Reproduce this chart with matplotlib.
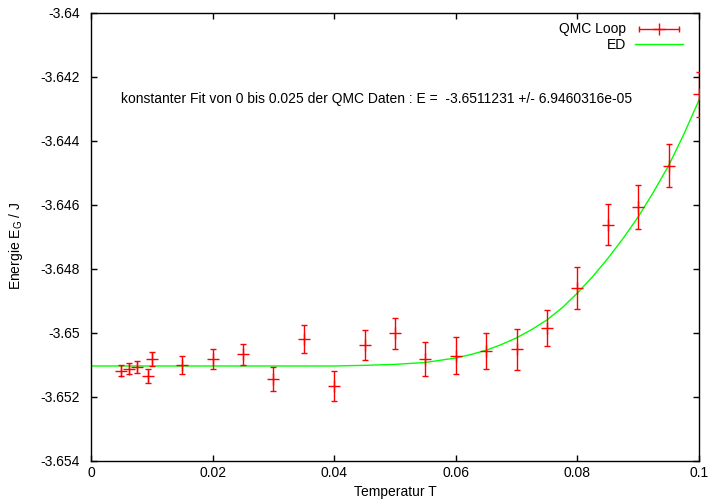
import numpy as np
import matplotlib
matplotlib.use('agg')
import matplotlib.pyplot as plt
from matplotlib.lines import Line2D
from matplotlib.legend_handler import HandlerLine2D, HandlerTuple

plt.rcParams['font.family'] = ['Liberation Sans', 'DejaVu Sans']

## QMC Loop data
T_qmc = [0.005, 0.00625, 0.0075, 0.0093, 0.01, 0.015, 0.02, 0.025, 0.03, 0.035,
         0.04, 0.045, 0.05, 0.055, 0.06, 0.065, 0.07, 0.075, 0.08, 0.085,
         0.09, 0.095, 0.1]
E_qmc = [-3.65119, -3.65113, -3.65108, -3.65135, -3.65081, -3.65101, -3.65083,
         -3.65068, -3.65144, -3.65020, -3.65166, -3.65038, -3.65002, -3.65082,
         -3.65072, -3.65056, -3.65052, -3.64984, -3.64861, -3.64663, -3.64608,
         -3.64478, -3.64255]
E_err = [0.00017, 0.00017, 0.00019, 0.00021, 0.00022, 0.00028, 0.00032, 0.00034,
         0.00038, 0.00044, 0.00046, 0.00048, 0.00049, 0.00052, 0.00058, 0.00056,
         0.00065, 0.00056, 0.00065, 0.00064, 0.00069, 0.00067, 0.0007]

## exact diagonalisation curve
T_ed = [0.0, 0.01, 0.02, 0.03, 0.04, 0.045, 0.05, 0.055, 0.06, 0.0625, 0.065,
        0.0675, 0.07, 0.0725, 0.075, 0.0775, 0.08, 0.0825, 0.085, 0.0875,
        0.09, 0.0925, 0.095, 0.0975, 0.1]
E_ed = [-3.65104, -3.65104, -3.65104, -3.65104, -3.65104, -3.65102, -3.65099,
        -3.65093, -3.65079, -3.65068, -3.65055, -3.65037, -3.65016, -3.64990,
        -3.64960, -3.64922, -3.64876, -3.64825, -3.64768, -3.64706, -3.64638,
        -3.64561, -3.64478, -3.64380, -3.64273]

fit_text = 'konstanter Fit von 0 bis 0.025 der QMC Daten : E =  -3.6511231 +/- 6.9460316e-05'

red = '#ff0000'
green = '#00ff00'

fig = plt.figure(figsize=(7.11, 5.01), dpi=100)
ax = fig.add_axes([91/711, 1-460.7/501, 608/711, 448/501])

ax.errorbar(T_qmc, E_qmc, yerr=E_err, fmt='+', color=red, ecolor=red,
            elinewidth=1, capsize=2.5, capthick=1, markersize=8, mew=1, zorder=3)
ax.plot(T_ed, E_ed, color=green, lw=1, zorder=2)

ax.text(0.005, -3.6427, fit_text, fontsize=10, ha='left', va='center')

ax.set_xlim(0, 0.1)
ax.set_ylim(-3.654, -3.64)
ax.set_xticks([0, 0.02, 0.04, 0.06, 0.08, 0.1])
ax.set_xticklabels(['0', '0.02', '0.04', '0.06', '0.08', '0.1'])
yt = [-3.654, -3.652, -3.65, -3.648, -3.646, -3.644, -3.642, -3.64]
ax.set_yticks(yt)
ax.set_yticklabels(['-3.654', '-3.652', '-3.65', '-3.648', '-3.646', '-3.644', '-3.642', '-3.64'])
ax.tick_params(direction='in', length=4.5, width=1, top=True, right=True,
               labelsize=10)
ax.tick_params(axis='y', pad=8)
ax.tick_params(axis='x', pad=4)
for s in ax.spines.values():
    s.set_linewidth(1)

ax.set_xlabel('Temperatur T', fontsize=10)
ax.set_ylabel('Energie E$_\\mathregular{G}$ / J', fontsize=10)
ax.xaxis.set_label_coords(0.5, -0.055)
ax.yaxis.set_label_coords(-0.108, 0.48)

## gnuplot style key: horizontal bar with caps and a cross in the middle
bar = Line2D([], [], color=red, lw=1, marker='|', markersize=5, mew=1)
cross = Line2D([], [], color=red, lw=0, marker='+', markersize=9, mew=1)
ed_line = Line2D([], [], color=green, lw=1)
ax.legend([(bar, cross), ed_line], ['QMC Loop', 'ED'],
          handler_map={bar: HandlerLine2D(numpoints=2),
                       cross: HandlerLine2D(numpoints=1),
                       tuple: HandlerTuple(ndivide=1, pad=0)},
          loc='upper right', bbox_to_anchor=(0.99, 1.0), frameon=False,
          markerfirst=False, fontsize=10, handlelength=3.5, handletextpad=0.6,
          labelspacing=0.1, borderaxespad=0.3)

fig.savefig('out.png', dpi=100)
